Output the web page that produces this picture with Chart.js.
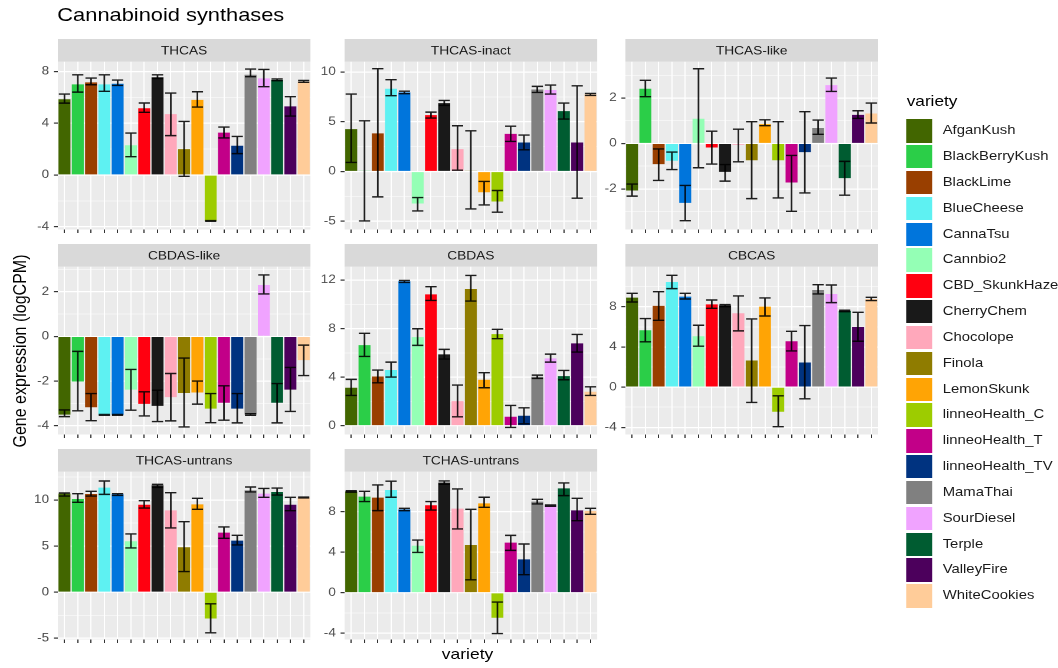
<!DOCTYPE html>
<html>
<head>
<meta charset="utf-8">
<script src="https://cdn.jsdelivr.net/npm/chart.js@4.4.1/dist/chart.umd.min.js"></script>
<style>
body { margin: 0; background: #fff; overflow: hidden; }
#page { position: absolute; left: 0; top: 0; width: 897px; height: 668px;
        transform: scaleX(1.18); transform-origin: 0 0;
        font-family: "Liberation Sans", Arial, sans-serif; }
#page canvas { position: absolute; }
.txt { position: absolute; white-space: nowrap; line-height: 1; }
</style>
</head>
<body>
<div id="page">
  <div class="txt" style="left:48.6px;top:5.9px;font-size:18.5px;color:#000;">Cannabinoid synthases</div>
  <div class="txt" style="left:-112.8px;top:343px;width:260px;height:16px;font-size:16px;text-align:center;transform:rotate(-90deg);color:#000;">Gene expression (logCPM)</div>
  <div class="txt" style="left:346.2px;top:647.4px;width:100px;text-align:center;font-size:14.8px;color:#000;">variety</div>
  <div id="legend"></div>
</div>
<script>
var varieties = ["AfganKush", "BlackBerryKush", "BlackLime", "BlueCheese", "CannaTsu", "Cannbio2",
  "CBD_SkunkHaze", "CherryChem", "Chocolope", "Finola", "LemonSkunk", "linneoHealth_C",
  "linneoHealth_T", "linneoHealth_TV", "MamaThai", "SourDiesel", "Terple", "ValleyFire", "WhiteCookies"];
var colours = ["#426600", "#2BCE48", "#993F00", "#5EF1F2", "#0075DC", "#94FFB5", "#FF0010", "#191919",
  "#FFA8BB", "#8F7C00", "#FFA405", "#9DCC00", "#C20088", "#003380", "#808080", "#F0A3FF",
  "#005C31", "#4C005C", "#FFCC99"];

var genes = ["THCAS", "THCAS-inact", "THCAS-like", "CBDAS-like", "CBDAS", "CBCAS", "THCAS-untrans", "TCHAS-untrans"];

var thcasMean = [5.85, 7.0, 7.15, 7.0, 7.05, 2.3, 5.15, 7.55, 4.7, 2.0, 5.8, -3.55, 3.27, 2.26, 7.74, 7.46, 7.35, 5.3, 7.22];
var thcasLow  = [5.55, 6.4, 6.97, 6.46, 6.92, 1.41, 4.84, 7.45, 3.04, -0.1, 5.25, -3.58, 2.86, 1.65, 7.59, 6.82, 7.28, 4.55, 7.16];
var thcasHigh = [6.25, 7.74, 7.49, 7.74, 7.33, 3.24, 5.56, 7.74, 6.33, 4.14, 6.43, -3.52, 3.7, 2.98, 8.18, 8.15, 7.42, 6.05, 7.3];

var inactMean = [4.26, 0.05, 3.83, 8.32, 7.95, -3.22, 5.67, 6.88, 2.25, 0.08, -2.08, -3.02, 3.79, 2.92, 8.25, 8.19, 6.07, 2.92, 7.75];
var inactLow  = [0.91, -4.97, -2.55, 7.62, 7.82, -3.96, 5.37, 6.64, 0.13, -3.76, -3.36, -4.09, 3.02, 2.18, 7.95, 7.79, 5.27, -2.68, 7.65];
var inactHigh = [7.79, 5.1, 10.34, 9.23, 8.08, -2.62, 5.97, 7.15, 4.6, 4.09, -1.0, -1.91, 4.56, 3.66, 8.56, 8.69, 6.88, 8.62, 7.85];

var likeMean = [-2.07, 2.41, -0.91, -0.76, -2.62, 1.09, -0.18, -1.25, -0.06, -0.74, 0.85, -0.74, -1.72, -0.38, 0.68, 2.57, -1.53, 1.26, 1.32];
var likeLow  = [-2.32, 2.06, -1.63, -1.15, -3.4, -1.07, -0.91, -1.66, -0.81, -2.43, 0.78, -2.4, -2.99, -2.18, 0.4, 2.29, -2.28, 1.1, 0.9];
var likeHigh = [-1.79, 2.78, -0.24, -0.38, -1.85, 3.29, 0.54, -0.93, 0.63, 0.96, 1.04, 0.96, -0.53, 1.4, 1.03, 2.88, -0.79, 1.44, 1.78];

var cbdasLikeMean = [-3.5, -2.02, -3.17, -3.51, -3.51, -2.38, -3.02, -3.11, -2.72, -2.53, -2.51, -3.23, -2.97, -3.23, -3.5, 2.3, -2.97, -2.38, -1.06];
var cbdasLikeLow  = [-3.59, -3.33, -3.77, -3.53, -3.53, -3.3, -3.56, -3.81, -3.78, -4.05, -3.03, -3.86, -3.75, -3.87, -3.53, 1.9, -3.87, -3.36, -1.75];
var cbdasLikeHigh = [-3.29, -0.67, -2.56, -3.49, -3.49, -1.48, -2.48, -2.41, -1.66, -0.97, -2.0, -2.56, -2.21, -2.56, -3.46, 2.75, -2.11, -1.39, -0.39];

var cbdasMean = [3.13, 6.64, 4.06, 4.59, 11.9, 7.3, 10.82, 5.88, 2.03, 11.26, 3.79, 7.55, 0.74, 0.82, 4.04, 5.55, 4.09, 6.78, 2.8];
var cbdasLow  = [2.5, 5.71, 3.54, 4.01, 11.8, 6.62, 10.32, 5.49, 0.74, 10.27, 3.13, 7.17, -0.14, 0.16, 3.9, 5.24, 3.79, 6.07, 2.5];
var cbdasHigh = [3.82, 7.61, 4.59, 5.24, 11.97, 7.99, 11.45, 6.29, 3.35, 12.38, 4.37, 7.94, 1.67, 1.48, 4.17, 5.9, 4.56, 7.52, 3.21];

var cbcasMean = [8.89, 5.65, 8.07, 10.45, 8.99, 5.06, 8.23, 8.12, 7.34, 2.64, 8.0, -2.45, 4.56, 2.45, 9.65, 9.26, 7.58, 5.98, 8.76];
var cbcasLow  = [8.46, 4.5, 6.64, 9.79, 8.76, 4.07, 7.83, 8.0, 5.59, -1.52, 7.07, -3.93, 3.6, -1.16, 9.26, 8.4, 7.5, 4.56, 8.6];
var cbcasHigh = [9.32, 6.81, 9.49, 11.11, 9.32, 6.15, 8.66, 8.2, 9.06, 6.78, 8.86, -0.86, 5.55, 6.12, 10.18, 10.15, 7.64, 7.44, 8.93];

var untransMean = [10.69, 10.11, 10.65, 11.34, 10.62, 5.52, 9.49, 11.6, 8.88, 4.87, 9.53, -2.85, 6.46, 5.6, 11.05, 10.69, 10.87, 9.49, 10.27];
var untransLow  = [10.43, 9.75, 10.43, 10.61, 10.5, 4.8, 9.13, 11.37, 6.97, 2.24, 8.99, -4.4, 5.85, 5.13, 10.87, 10.29, 10.54, 8.84, 10.22];
var untransHigh = [10.76, 10.69, 10.94, 12.06, 10.69, 6.32, 9.93, 11.7, 10.79, 7.65, 10.18, -1.26, 7.08, 6.17, 11.41, 11.26, 11.3, 10.29, 10.32];

var tchasMean = [10.0, 9.48, 9.38, 10.14, 8.23, 4.64, 8.63, 10.86, 8.3, 4.71, 8.82, -2.47, 4.94, 3.29, 8.99, 8.63, 10.3, 8.13, 8.07];
var tchasLow  = [9.92, 8.99, 8.1, 9.42, 8.1, 3.98, 8.16, 10.7, 6.29, 1.28, 8.43, -4.02, 4.18, 1.78, 8.76, 8.53, 9.58, 7.11, 7.74];
var tchasHigh = [10.06, 10.01, 10.63, 11.0, 8.33, 5.2, 8.99, 11.03, 10.24, 8.23, 9.42, -0.92, 5.66, 4.81, 9.22, 8.66, 10.83, 9.32, 8.33];

// labelled y ticks and axis limits of each facet
var yTicks = [[-4, 0, 4, 8], [-5, 0, 5, 10], [-2, 0, 2], [-4, -2, 0, 2], [0, 4, 8, 12], [-4, 0, 4, 8], [-5, 0, 5, 10], [-4, 0, 4, 8]];
var yLimits = [[-4.21, 8.75], [-5.83, 11.04], [-3.79, 3.6], [-4.39, 3.12], [-0.72, 13.1], [-4.71, 11.97], [-5.13, 13.07], [-4.61, 11.94]];

var means = [thcasMean, inactMean, likeMean, cbdasLikeMean, cbdasMean, cbcasMean, untransMean, tchasMean];
var lows = [thcasLow, inactLow, likeLow, cbdasLikeLow, cbdasLow, cbcasLow, untransLow, tchasLow];
var highs = [thcasHigh, inactHigh, likeHigh, cbdasLikeHigh, cbdasHigh, cbcasHigh, untransHigh, tchasHigh];

var COL_LEFT = [48.9, 291.5, 530.3];
var ROW_TOP = [39, 244, 449];
var PW = 214, AXW = 30, STRIP = 22.7, PH = 167.8, XH = 4.5;
var FONT = '"Liberation Sans", Arial, sans-serif';

var panelPlugin = {
  id: 'panel',
  beforeDraw: function (chart) {
    var a = chart.chartArea, ctx = chart.ctx;
    ctx.save();
    ctx.fillStyle = '#EBEBEB';
    ctx.fillRect(a.left, a.top, a.right - a.left, a.bottom - a.top);
    ctx.fillStyle = '#D9D9D9';
    ctx.fillRect(a.left, 0, a.right - a.left, a.top);
    ctx.fillStyle = '#1A1A1A';
    ctx.font = '11.6px ' + FONT;
    ctx.textAlign = 'center';
    ctx.textBaseline = 'alphabetic';
    ctx.fillText(chart.data.datasets[0].label, (a.left + a.right) / 2, 15.3);
    ctx.restore();
  },
  afterDatasetsDraw: function (chart) {
    var ds = chart.data.datasets[0];
    var meta = chart.getDatasetMeta(0);
    var y = chart.scales.y, ctx = chart.ctx;
    ctx.save();
    ctx.strokeStyle = 'rgba(0,0,0,0.88)';
    ctx.lineWidth = 1.4;
    meta.data.forEach(function (bar, i) {
      var half = bar.width * 0.47;
      var yl = y.getPixelForValue(ds.errLow[i]);
      var yh = y.getPixelForValue(ds.errHigh[i]);
      ctx.beginPath();
      ctx.moveTo(bar.x, yl); ctx.lineTo(bar.x, yh);
      ctx.moveTo(bar.x - half, yl); ctx.lineTo(bar.x + half, yl);
      ctx.moveTo(bar.x - half, yh); ctx.lineTo(bar.x + half, yh);
      ctx.stroke();
    });
    ctx.restore();
  }
};

function tickList(major, lim) {
  var step = major.length > 1 ? major[1] - major[0] : 2;
  var all = [];
  for (var v = major[0] - step; v <= major[major.length - 1] + step + 1e-9; v += step / 2) {
    if (v >= lim[0] && v <= lim[1]) all.push(Math.round(v * 100) / 100);
  }
  return all;
}

function makePanel(k) {
  var row = Math.floor(k / 3), col = k % 3;
  var cv = document.createElement('canvas');
  cv.width = PW + AXW;
  cv.height = Math.round(STRIP + PH + XH);
  cv.style.left = (COL_LEFT[col] - AXW) + 'px';
  cv.style.top = ROW_TOP[row] + 'px';
  document.getElementById('page').appendChild(cv);

  var major = yTicks[k];
  var ticks = tickList(major, yLimits[k]);
  var isMajor = function (c) { return c.tick && major.indexOf(c.tick.value) >= 0; };

  new Chart(cv, {
    type: 'bar',
    data: {
      labels: varieties,
      datasets: [{
        label: genes[k],
        data: means[k],
        errLow: lows[k],
        errHigh: highs[k],
        backgroundColor: colours,
        borderWidth: 0,
        barPercentage: 0.9,
        categoryPercentage: 1.0
      }]
    },
    options: {
      responsive: false,
      animation: false,
      devicePixelRatio: 2,
      layout: { padding: { top: STRIP, left: 0, right: 0, bottom: 0 } },
      plugins: { legend: { display: false }, tooltip: { enabled: false } },
      scales: {
        x: {
          type: 'category',
          offset: true,
          afterFit: function (s) { s.height = XH; },
          grid: { color: '#FFFFFF', lineWidth: 1, offset: false, tickColor: '#333333', tickLength: 3.5 },
          border: { display: false },
          ticks: { display: false }
        },
        y: {
          min: yLimits[k][0],
          max: yLimits[k][1],
          bounds: 'data',
          afterBuildTicks: function (s) { s.ticks = ticks.map(function (v) { return { value: v }; }); },
          afterFit: function (s) { s.width = AXW; s.paddingTop = 0; s.paddingBottom = 0; },
          grid: {
            color: '#FFFFFF',
            lineWidth: function (c) { return isMajor(c) ? 1.2 : 0.6; },
            tickColor: function (c) { return isMajor(c) ? '#333333' : 'rgba(0,0,0,0)'; },
            tickLength: 3.4
          },
          border: { display: false },
          ticks: {
            autoSkip: false,
            padding: 4,
            color: '#4D4D4D',
            font: { family: FONT, size: 11.5 },
            callback: function (v) { return major.indexOf(v) >= 0 ? String(v) : ''; }
          }
        }
      }
    },
    plugins: [panelPlugin]
  });
}

function makeLegend() {
  var box = document.getElementById('legend');
  var html = '<div class="txt" style="left:768.4px;top:94.4px;font-size:14.6px;color:#000;">variety</div>';
  for (var i = 0; i < varieties.length; i++) {
    var top = 119.3 + i * 25.83;
    html += '<div style="position:absolute;left:768.4px;top:' + top + 'px;width:22px;height:23.3px;background:' + colours[i] + ';"></div>';
    html += '<div class="txt" style="left:798.9px;top:' + top + 'px;height:23.3px;line-height:23.3px;font-size:12.6px;color:#1A1A1A;">' + varieties[i] + '</div>';
  }
  box.innerHTML = html;
}

makeLegend();
for (var k = 0; k < genes.length; k++) makePanel(k);
</script>
</body>
</html>
